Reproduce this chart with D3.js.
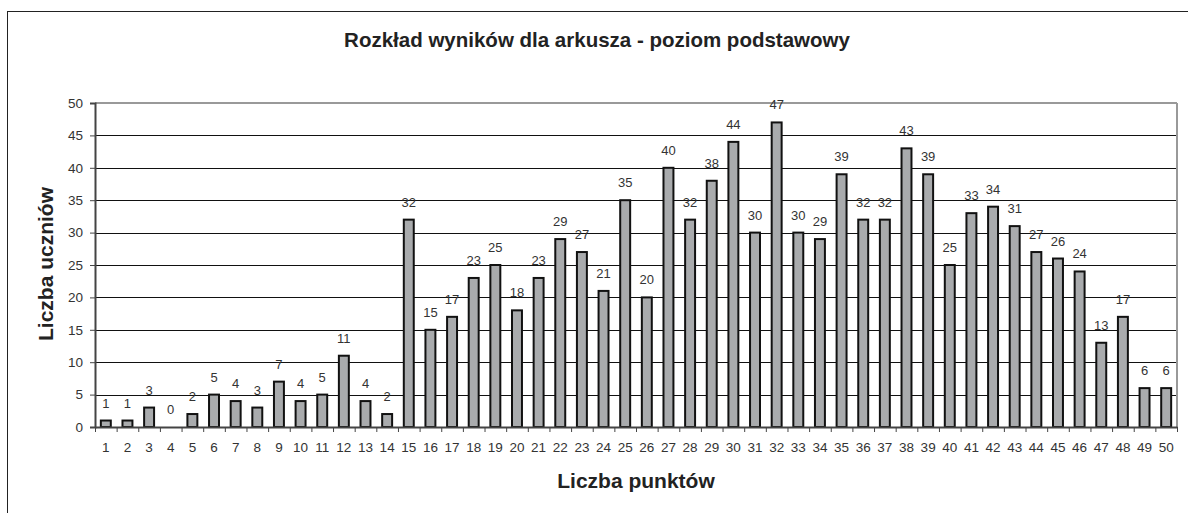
<!DOCTYPE html>
<html>
<head>
<meta charset="utf-8">
<script src="https://cdn.jsdelivr.net/npm/d3@7"></script>
<style>
  body { margin: 0; background: #fff; }
  svg text { font-family: "Liberation Sans", Arial, sans-serif; fill: #222; }
</style>
</head>
<body>
<svg id="chart" width="1188" height="513"></svg>
<script>
const points = d3.range(1, 51);
const counts = [1, 1, 3, 0, 2, 5, 4, 3, 7, 4, 5, 11, 4, 2, 32, 15, 17, 23, 25, 18,
  23, 29, 27, 21, 35, 20, 40, 32, 38, 44, 30, 47, 30, 29, 39, 32, 32, 43, 39, 25,
  33, 34, 31, 27, 26, 24, 13, 17, 6, 6];
const yTicks = [0, 5, 10, 15, 20, 25, 30, 35, 40, 45, 50];

const titleText = 'Rozkład wyników dla arkusza - poziom podstawowy';
const xLabel = 'Liczba punktów';
const yLabel = 'Liczba uczniów';

const margin = { top: 103, right: 11, bottom: 86, left: 95 };
const width = 1188 - margin.left - margin.right;
const height = 513 - margin.top - margin.bottom;

const svg = d3.select('#chart');

// outer frame
svg.append('rect')
  .attr('x', 7.5).attr('y', 11.5)
  .attr('width', 1200).attr('height', 600)
  .attr('fill', 'none')
  .attr('stroke', '#222')
  .attr('stroke-width', 1);

svg.append('text')
  .attr('x', 597).attr('y', 47)
  .attr('text-anchor', 'middle')
  .style('font-size', '20.5px')
  .style('font-weight', 'bold')
  .text(titleText);

const g = svg.append('g')
  .attr('transform', `translate(${margin.left},${margin.top})`);

const x = d3.scaleBand()
  .domain(points)
  .range([0, width])
  .paddingInner(0.54)
  .paddingOuter(0.27);

const y = d3.scaleLinear()
  .domain([0, 50])
  .range([height, 0]);

// gridlines
g.selectAll('.grid')
  .data(yTicks.filter(t => t > 0 && t < 50))
  .enter()
  .append('line')
  .attr('x1', 0).attr('x2', width)
  .attr('y1', d => Math.round(y(d)) + 0.5)
  .attr('y2', d => Math.round(y(d)) + 0.5)
  .attr('stroke', '#111')
  .attr('stroke-width', 1);

// plot border top / right
g.append('line')
  .attr('x1', 0).attr('x2', width)
  .attr('y1', 0).attr('y2', 0)
  .attr('stroke', '#999').attr('stroke-width', 2);
g.append('line')
  .attr('x1', width).attr('x2', width)
  .attr('y1', 0).attr('y2', height)
  .attr('stroke', '#999').attr('stroke-width', 2);

// bars
g.selectAll('.bar')
  .data(counts)
  .enter()
  .append('rect')
  .attr('x', (d, i) => x(points[i]))
  .attr('y', d => y(d))
  .attr('width', x.bandwidth())
  .attr('height', d => height - y(d))
  .attr('fill', '#a9abad')
  .attr('stroke', '#111')
  .attr('stroke-width', d => d > 0 ? 2 : 0);

// value labels
g.selectAll('.val')
  .data(counts)
  .enter()
  .append('text')
  .attr('x', (d, i) => x(points[i]) + x.bandwidth() / 2)
  .attr('y', d => y(d) - 13)
  .attr('text-anchor', 'middle')
  .style('font-size', '13px')
  .style('fill', '#333')
  .text(d => d);

// y axis
const yAxis = g.append('g')
  .call(d3.axisLeft(y).tickValues(yTicks).tickSize(5).tickPadding(7));
yAxis.select('.domain').attr('stroke', '#444').attr('stroke-width', 2);
yAxis.selectAll('.tick line').attr('stroke', '#444');
yAxis.selectAll('text').style('font-size', '13.5px').style('fill', '#333');

// x axis, ticks between categories
const xAxis = g.append('g')
  .attr('transform', `translate(0,${height})`)
  .call(d3.axisBottom(x).tickSize(0).tickPadding(15));
xAxis.select('.domain').attr('stroke', '#444').attr('stroke-width', 2);
xAxis.selectAll('text').style('font-size', '13.5px').style('fill', '#333');

g.selectAll('.xtick')
  .data(d3.range(0, points.length + 1))
  .enter()
  .append('line')
  .attr('x1', i => x.step() * i + 0.5)
  .attr('x2', i => x.step() * i + 0.5)
  .attr('y1', height)
  .attr('y2', height + 5)
  .attr('stroke', '#444');

svg.append('text')
  .attr('x', margin.left + width / 2)
  .attr('y', 488)
  .attr('text-anchor', 'middle')
  .style('font-size', '21px')
  .style('font-weight', 'bold')
  .text(xLabel);

svg.append('text')
  .attr('transform', `translate(53,264) rotate(-90)`)
  .attr('text-anchor', 'middle')
  .style('font-size', '21px')
  .style('font-weight', 'bold')
  .text(yLabel);
</script>
</body>
</html>
